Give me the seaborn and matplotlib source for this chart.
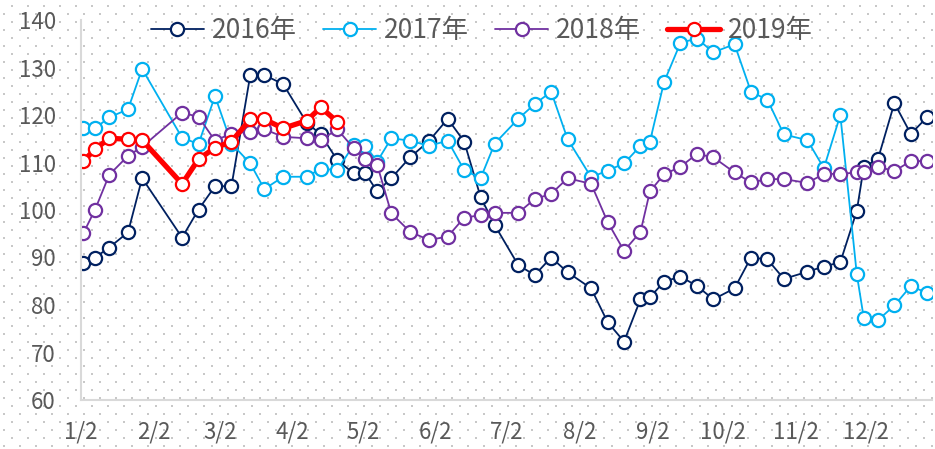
import numpy as np
import pandas as pd
import matplotlib.pyplot as plt
import seaborn as sns

# ---------------------------------------------------------------
# Dados — datas no formato mês-dia
# ---------------------------------------------------------------
dates = ["01-03", "01-08", "01-14", "01-22", "01-28", "02-14", "02-21", "02-28",
         "03-07", "03-15", "03-21", "03-29", "04-08", "04-14", "04-21", "04-28",
         "05-03", "05-08", "05-14", "05-22", "05-30", "06-07", "06-14", "06-21",
         "06-27", "07-07", "07-14", "07-21", "07-28", "08-07", "08-14", "08-21",
         "08-28", "09-01", "09-07", "09-14", "09-21", "09-28", "10-07", "10-14",
         "10-21", "10-28", "11-07", "11-14", "11-21", "11-28", "12-01", "12-07",
         "12-14", "12-21", "12-28"]

v2016 = [88.8, 90.0, 92.1, 95.3, 106.7, 94.2, 100.1, 105.0,
         105.0, 128.4, 128.4, 126.5, 118.4, 115.9, 110.5, 107.7,
         107.7, 103.9, 106.7, 111.1, 114.5, 119.2, 114.4, 102.7,
         96.8, 88.4, 86.3, 90.0, 86.9, 83.5, 76.4, 72.3,
         81.2, 81.6, 84.9, 86.0, 84.0, 81.2, 83.5, 90.0,
         89.6, 85.5, 87.0, 88.1, 89.0, 99.8, 109.1, 110.7,
         122.5, 116.0, 119.6]

v2017 = [117.2, 117.2, 119.5, 121.2, 129.7, 115.2, 113.9, 124.0,
         114.0, 109.8, 104.4, 107.0, 107.0, 108.7, 108.4, 113.7,
         113.5, 110.2, 115.1, 114.6, 113.5, 114.6, 108.4, 106.7,
         114.0, 119.2, 122.3, 124.9, 114.9, 106.9, 108.3, 109.8,
         113.5, 114.4, 126.9, 135.2, 136.1, 133.2, 134.9, 124.9,
         123.2, 115.9, 114.7, 108.8, 120.0, 86.5, 77.2, 76.8,
         79.9, 84.0, 82.5]

v2018 = [95.1, 100.1, 107.4, 111.4, 113.3, 120.5, 119.6, 114.6,
         116.1, 116.5, 117.0, 115.4, 115.1, 114.7, 117.0, 113.0,
         110.7, 109.5, 99.3, 95.4, 93.7, 94.4, 98.4, 98.9,
         99.4, 99.4, 102.3, 103.4, 106.7, 105.5, 97.5, 91.4,
         95.4, 103.9, 107.5, 109.1, 111.8, 111.1, 107.9, 105.8,
         106.5, 106.5, 105.7, 107.6, 107.6, 107.9, 107.9, 109.1,
         108.2, 110.3, 110.3]

v2019 = [110.3, 112.8, 115.1, 114.9, 114.7, 105.5, 110.7, 113.1,
         114.4, 119.1, 119.1, 117.2, 118.8, 121.6, 118.6]

years = ["2016年", "2017年", "2018年", "2019年"]
colors = ["#002060", "#00B0F0", "#7030A0", "#FF0000"]

# ---------------------------------------------------------------
# Estilo
# ---------------------------------------------------------------
sns.set_theme(style="white")
plt.rcParams['font.family'] = ['Noto Sans CJK SC', 'DejaVu Sans']

text_gray = '#595959'
axis_gray = '#D9D9D9'

fig = plt.figure(figsize=(9.35, 4.49), dpi=100)

# fundo pontilhado (textura)
bg = fig.add_axes([0, 0, 1, 1], zorder=-5)
bg.set_xlim(0, 935)
bg.set_ylim(0, 449)
bg.axis('off')
px, py = [], []
for i, yy in enumerate(np.arange(3, 449, 8)):
    off = 0 if i % 2 == 0 else 8
    for xx in np.arange(4 + off, 935, 16):
        px.append(xx)
        py.append(yy)
bg.scatter(px, py, s=1.6, color='#C8C8C8', marker='s', linewidths=0)

ax = fig.add_axes([81 / 935, 49 / 449, 851 / 935, 380 / 449])
ax.patch.set_alpha(0)

series = [v2016, v2017, v2018, v2019]
for label, vals, color in zip(years, series, colors):
    df = pd.DataFrame({
        'date': pd.to_datetime(['2019-' + d for d in dates[:len(vals)]]),
        'value': vals,
    })
    thick = label == "2019年"
    sns.lineplot(data=df, x='date', y='value', ax=ax, color=color,
                 lw=3.8 if thick else 1.3, marker='o', markersize=9.5,
                 markerfacecolor='white', markeredgecolor=color,
                 markeredgewidth=1.6, label=label)

ax.set_xlim(pd.Timestamp('2019-01-02'), pd.Timestamp('2019-12-30'))
ax.set_ylim(60, 140)
ax.set_yticks(range(60, 141, 10))
xt = [pd.Timestamp(2019, m, 2) for m in range(1, 13)]
ax.set_xticks(xt)
ax.set_xticklabels([f'{m}/2' for m in range(1, 13)])
ax.set_xlabel('')
ax.set_ylabel('')

for side in ['top', 'right']:
    ax.spines[side].set_visible(False)
for side in ['left', 'bottom']:
    ax.spines[side].set_color(axis_gray)
    ax.spines[side].set_linewidth(1.5)

ax.tick_params(axis='both', which='major', length=6, width=1.5, color=axis_gray,
               labelcolor=text_gray, labelsize=16, direction='out')
ax.tick_params(axis='y', pad=12)
ax.tick_params(axis='x', pad=9)
ax.grid(False)

handles, labels = ax.get_legend_handles_labels()
leg = ax.legend(handles, labels, loc='center', ncol=4, frameon=False,
                bbox_to_anchor=(482 / 935, 1 - 31 / 449), bbox_transform=fig.transFigure,
                fontsize=19, handlelength=2.0, handletextpad=0.3, columnspacing=1.0)
for t in leg.get_texts():
    t.set_color(text_gray)

plt.savefig('out.png', dpi=100)
plt.close()
